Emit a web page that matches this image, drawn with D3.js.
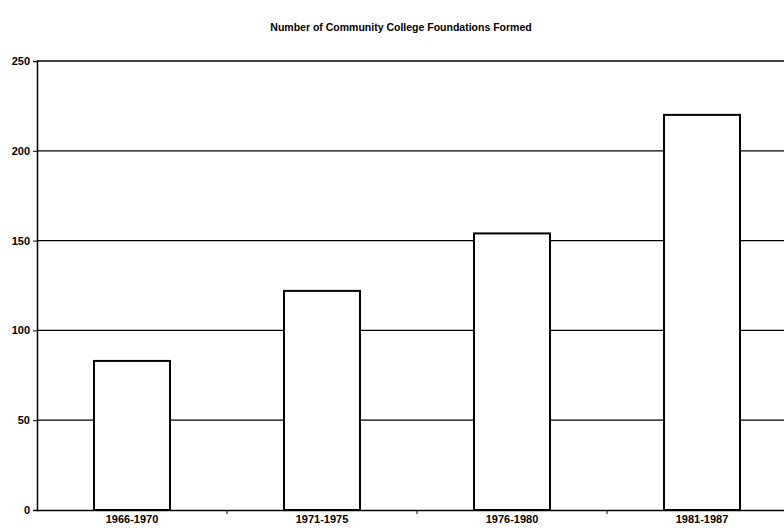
<!DOCTYPE html>
<html><head><meta charset="utf-8">
<script src="https://cdn.jsdelivr.net/npm/d3@7"></script>
<style>
html,body{margin:0;padding:0;background:#fff;overflow:hidden;}
text{font-family:"Liberation Sans Narrow","Arial Narrow","Liberation Sans",sans-serif;font-weight:bold;fill:#000;}
</style></head>
<body><svg id="c" width="784" height="532"></svg>
<script>
const categories = ["1966-1970","1971-1975","1976-1980","1981-1987"];
const values = [83,122,154,220];
const yTicks = [0,50,100,150,200,250];
const title = "Number of Community College Foundations Formed";

const svg = d3.select("#c");
const m = {left:37, top:61, bottom:510, right:797};
const x = d3.scaleBand().domain(categories).range([m.left, m.right]).padding(0);
const y = d3.scaleLinear().domain([0,250]).range([m.bottom, m.top]);

svg.append("text").attr("x",401).attr("y",31).attr("text-anchor","middle")
  .style("font-size","10.5px").text(title);

// gridlines
svg.append("g").selectAll("line").data(yTicks.filter(d=>d>0)).join("line")
  .attr("x1",m.left).attr("x2",784).attr("y1",d=>y(d)).attr("y2",d=>y(d))
  .attr("stroke","#000").attr("stroke-width",1.3);

// bars
const bw = x.bandwidth()*0.4;
svg.append("g").selectAll("rect").data(values).join("rect")
  .attr("x",(d,i)=>x(categories[i])+x.bandwidth()/2-bw/2)
  .attr("y",d=>y(d)).attr("width",bw).attr("height",d=>y(0)-y(d))
  .attr("fill","#fff").attr("stroke","#000").attr("stroke-width",2);

// y axis
const ya = svg.append("g").attr("transform",`translate(${m.left},0)`)
  .call(d3.axisLeft(y).tickValues(yTicks).tickSize(4).tickPadding(3));
ya.select(".domain").attr("stroke","#000").attr("stroke-width",1.5);
ya.selectAll("text").style("font-size","11px");

// x axis
const xa = svg.append("g").attr("transform",`translate(0,${m.bottom})`)
  .call(d3.axisBottom(x).tickSize(0).tickPadding(5));
xa.select(".domain").attr("stroke","#000").attr("stroke-width",1.5);
xa.selectAll("text").style("font-size","11px");
// tick marks at category boundaries
svg.append("g").selectAll("line").data(categories.slice(1)).join("line")
  .attr("x1",d=>x(d)).attr("x2",d=>x(d)).attr("y1",m.bottom).attr("y2",m.bottom+4)
  .attr("stroke","#000").attr("stroke-width",1);
</script></body></html>
